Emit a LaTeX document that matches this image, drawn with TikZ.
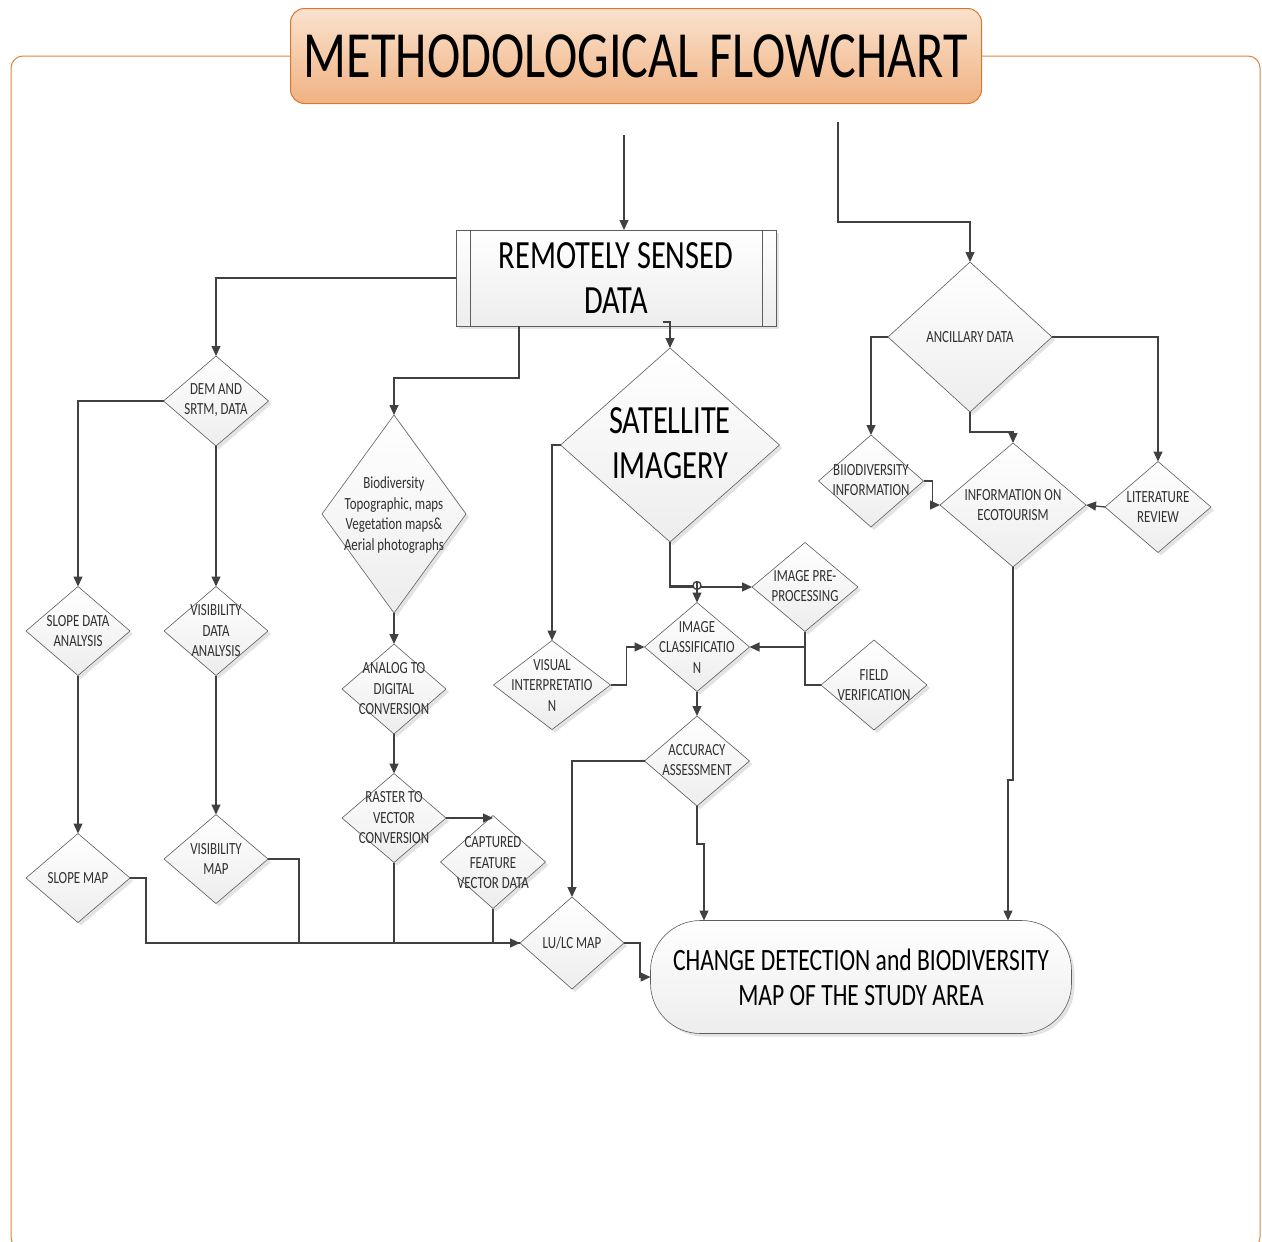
\documentclass[tikz,border=0pt]{standalone}
\usepackage{fontspec}
\setmainfont{Carlito}[FakeStretch=0.76]
\usepackage{tikz}
\usetikzlibrary{arrows.meta,calc,shapes.geometric,shadows}
\definecolor{framec}{RGB}{226,132,58}
\definecolor{titletop}{RGB}{250,226,206}
\definecolor{titlebot}{RGB}{240,178,130}
\definecolor{titledraw}{RGB}{214,118,50}
\definecolor{linec}{RGB}{64,64,64}
\definecolor{txtc}{RGB}{48,48,48}

\begin{document}
\begin{tikzpicture}[x=1pt,y=-1pt,>={Triangle[length=10pt,width=9pt]},line join=miter,
  line/.style={draw=linec,line width=1.3pt},
  arr/.style={line,->},
  box/.style={draw=linec!85,line width=0.6pt,top color=white,bottom color=gray!14,
    drop shadow={opacity=0.22,shadow xshift=3pt,shadow yshift=-3pt},inner sep=0pt,outer sep=0pt},
  dia/.style={box,diamond},
  txt/.style={font=\fontsize{17pt}{20.5pt}\selectfont,align=center,text=txtc,inner sep=0pt},
  big/.style={font=\fontsize{40pt}{45pt}\selectfont,align=center,text=black}]
\useasboundingbox (0,0) rectangle (1262,1242);
% frame and title
\draw[framec,line width=1pt,rounded corners=12pt] (11,56) rectangle (1260,1249);
\node[draw=titledraw,line width=1pt,rounded corners=14pt,top color=titletop,bottom color=titlebot,
  minimum width=691pt,minimum height=95pt,inner sep=0pt,font=\fontsize{66pt}{70pt}\selectfont]
  (title) at (636,56) {METHODOLOGICAL FLOWCHART};
\coordinate (srcA) at (624,135);
\coordinate (srcB) at (838,122);

% remotely sensed data
\node[box,big,minimum width=320pt,minimum height=96pt] (rsd) at (616,278) {REMOTELY SENSED\\DATA};
\draw[linec!85,line width=0.6pt] ([xshift=14pt]rsd.north west) -- ([xshift=14pt]rsd.south west);
\draw[linec!85,line width=0.6pt] ([xshift=-14pt]rsd.north east) -- ([xshift=-14pt]rsd.south east);

% left branch: DEM
\node[dia,minimum width=105pt,minimum height=90pt] (dem) at (216,401) {};
\node[txt] (dem-t) at (216,400) {DEM AND\\SRTM, DATA};
\node[dia,minimum width=104pt,minimum height=89pt] (sda) at (78,631) {};
\node[txt] (sda-t) at (78,631) {SLOPE DATA\\ANALYSIS};
\node[dia,minimum width=104pt,minimum height=89pt] (vda) at (216,631) {};
\node[txt] (vda-t) at (216,631) {VISIBILITY\\DATA\\ANALYSIS};
\node[dia,minimum width=104pt,minimum height=89pt] (slm) at (78,878) {};
\node[txt] (slm-t) at (78,878) {SLOPE MAP};
\node[dia,minimum width=104pt,minimum height=89pt] (vim) at (216,859) {};
\node[txt] (vim-t) at (216,859) {VISIBILITY\\MAP};

% middle branch: maps and photographs
\node[dia,minimum width=144pt,minimum height=198pt] (bio) at (394,514) {};
\node[txt] (bio-t) at (394,515) {Biodiversity\\Topographic, maps\\Vegetation maps\&\\Aerial photographs};
\node[dia,minimum width=104pt,minimum height=90pt] (ana) at (394,689) {};
\node[txt] (ana-t) at (394,689) {ANALOG TO\\DIGITAL\\CONVERSION};
\node[dia,minimum width=104pt,minimum height=89pt] (ras) at (394,818) {};
\node[txt] (ras-t) at (394,818) {RASTER TO\\VECTOR\\CONVERSION};
\node[dia,minimum width=105pt,minimum height=93pt] (cap) at (493,862) {};
\node[txt] (cap-t) at (493,863) {CAPTURED\\FEATURE\\VECTOR DATA};

% satellite imagery
\node[dia,minimum width=219pt,minimum height=194pt] (sat) at (670,445) {};
\node[big] (sat-t) at (670,443) {SATELLITE\\IMAGERY};
\node[dia,minimum width=117pt,minimum height=89pt] (vis) at (552,685) {};
\node[txt] (vis-t) at (552,685) {VISUAL\\INTERPRETATIO\\N};
\node[dia,minimum width=105pt,minimum height=89pt] (cls) at (697,647) {};
\node[txt] (cls-t) at (697,647) {IMAGE\\CLASSIFICATIO\\N};
\node[dia,minimum width=106pt,minimum height=89pt] (pre) at (805,587) {};
\node[txt] (pre-t) at (805,586) {IMAGE PRE-\\PROCESSING};
\node[dia,minimum width=106pt,minimum height=90pt] (fld) at (874,685) {};
\node[txt] (fld-t) at (874,685) {FIELD\\VERIFICATION};
\node[dia,minimum width=105pt,minimum height=90pt] (acc) at (697,761) {};
\node[txt] (acc-t) at (697,760) {ACCURACY\\ASSESSMENT};
\node[dia,minimum width=104pt,minimum height=92pt] (lulc) at (572,943) {};
\node[txt] (lulc-t) at (572,943) {LU/LC MAP};

% ancillary data
\node[dia,minimum width=164pt,minimum height=150pt] (anc) at (970,337) {};
\node[txt] (anc-t) at (970,337) {ANCILLARY DATA};
\node[dia,minimum width=105pt,minimum height=92pt] (bin) at (871,481) {};
\node[txt] (bin-t) at (871,480) {BIIODIVERSITY\\INFORMATION};
\node[dia,minimum width=146pt,minimum height=124pt] (eco) at (1013,505) {};
\node[txt] (eco-t) at (1013,505) {INFORMATION ON\\ECOTOURISM};
\node[dia,minimum width=106pt,minimum height=91pt] (lit) at (1158,507) {};
\node[txt] (lit-t) at (1158,507) {LITERATURE\\REVIEW};

% result
\node[box,rounded corners=50pt,minimum width=421pt,minimum height=113pt,
  font=\fontsize{31pt}{35pt}\selectfont,align=center,text=black] (fin) at (861,977)
  {CHANGE DETECTION and BIODIVERSITY\\MAP OF THE STUDY AREA};

% connectors
\draw[arr] (srcA) -- (srcA |- rsd.north);
\draw[arr] (srcB) -- ++(0,100) -| (anc.north);
\draw[arr] (rsd.west) -| (dem.north);
\draw[arr] ([xshift=-97pt]rsd.south) -- ++(0,52) -| (bio.north);
\draw[arr] ([xshift=47pt,yshift=4pt]rsd.south) -| (sat.north);
\draw[arr] (dem.west) -| (sda.north);
\draw[arr] (dem.south) -- (vda.north);
\draw[arr] (sda.south) -- (slm.north);
\draw[arr] (vda.south) -- (vim.north);
\draw[arr] (bio.south) -- (ana.north);
\draw[arr] (ana.south) -- (ras.north);
\draw[arr] (ras.east) -- (ras.east -| cap.north);
\draw[line] (vim.east) -- ++(31,0) |- (lulc.west);
\draw[line] (ras.south) |- (lulc.west);
\draw[line] (cap.south) |- (lulc.west);
\draw[arr] (slm.east) -- ++(16,0) |- (lulc.west);
\draw[arr] (sat.west) -| (vis.north);
\draw[arr] (sat.south) |- ([yshift=17pt]cls.north) -- (cls.north);
\draw[arr] (sat.south) |- (pre.west);
\draw[line,fill=white] ([yshift=17pt]cls.north) circle (4pt);
\draw[line] ([yshift=21pt]cls.north) -- ([yshift=13pt]cls.north);
\draw[arr] (pre.south) |- (cls.east);
\draw[line] (fld.west) -| (pre.south);
\draw[arr] (vis.east) -- ++(16,0) |- (cls.west);
\draw[arr] (cls.south) -- (acc.north);
\draw[arr] (acc.west) -| (lulc.north);
\draw[arr] (acc.south) -- ++(0,38) -| ([xshift=-157pt]fin.north);
\draw[arr] (lulc.east) -- ++(16,0) |- (fin.west);
\draw[arr] (anc.west) -| (bin.north);
\draw[arr] (anc.east) -| (lit.north);
\draw[arr] (anc.south) -- ++(0,20) -| (eco.north);
\draw[arr] (bin.east) -- ++(9,0) |- (eco.west);
\draw[arr] (lit.west) -- (eco.east);
\draw[arr] (eco.south) -- ++(0,213) -| ([xshift=147pt]fin.north);
\end{tikzpicture}
\end{document}
